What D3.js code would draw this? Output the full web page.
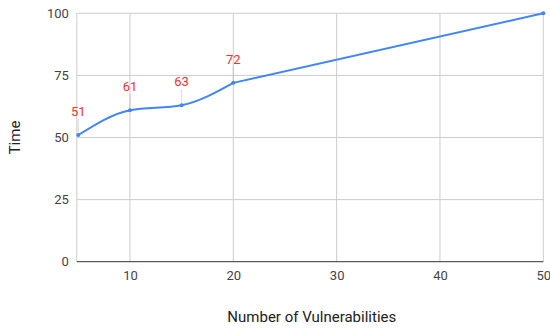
<!DOCTYPE html>
<html>
<head>
<meta charset="utf-8">
<script src="https://cdn.jsdelivr.net/npm/d3@7"></script>
<style>
  html, body { margin: 0; padding: 0; background: #fff; }
  svg { display: block; font-family: Roboto, Arial, sans-serif; }
</style>
</head>
<body>
<svg id="chart" width="550" height="329"></svg>
<script>
// Vulnerability count vs. time
const vulnerabilities = [5, 10, 15, 20, 50];
const times = [51, 61, 63, 72, 100];
const annotated = [true, true, true, true, false];
const xTicks = [10, 20, 30, 40, 50];
const yTicks = [0, 25, 50, 75, 100];

const svg = d3.select("#chart");

const x = d3.scaleLinear().domain([5, 50]).range([78.3, 543.3]);
const y = d3.scaleLinear().domain([0, 100]).range([261.7, 13.3]);
const plotLeft = x(5) - 1.5;

// Vertical gridlines
svg.append("g")
  .selectAll("line")
  .data(xTicks)
  .join("line")
  .attr("x1", d => x(d)).attr("x2", d => x(d))
  .attr("y1", y(100)).attr("y2", y(0))
  .attr("stroke", "#cccccc").attr("stroke-width", 1);

// Left edge line of the plot area
svg.append("line")
  .attr("x1", plotLeft).attr("x2", plotLeft)
  .attr("y1", y(100)).attr("y2", y(0))
  .attr("stroke", "#cccccc").attr("stroke-width", 1);

// Horizontal gridlines
svg.append("g")
  .selectAll("line")
  .data(yTicks.filter(d => d !== 0))
  .join("line")
  .attr("x1", plotLeft).attr("x2", x(50))
  .attr("y1", d => y(d)).attr("y2", d => y(d))
  .attr("stroke", "#cccccc").attr("stroke-width", 1);

// Baseline
svg.append("line")
  .attr("x1", plotLeft).attr("x2", x(50))
  .attr("y1", y(0)).attr("y2", y(0))
  .attr("stroke", "#333333").attr("stroke-width", 1);

// Y axis labels
const yAxis = d3.axisLeft(y).tickValues(yTicks).tickSize(0).tickPadding(8);
svg.append("g")
  .attr("transform", `translate(${plotLeft},0)`)
  .call(yAxis)
  .call(g => g.select(".domain").remove())
  .call(g => g.selectAll("text")
    .attr("font-size", 13).attr("fill", "#444444")
    .attr("font-family", "Roboto, Arial, sans-serif"));

// X axis labels
const xAxis = d3.axisBottom(x).tickValues(xTicks).tickSize(0).tickPadding(9);
svg.append("g")
  .attr("transform", `translate(0,${y(0)})`)
  .call(xAxis)
  .call(g => g.select(".domain").remove())
  .call(g => g.selectAll("text")
    .attr("font-size", 13).attr("fill", "#444444")
    .attr("font-family", "Roboto, Arial, sans-serif"));

// Axis titles
svg.append("text")
  .attr("x", (x(5) + x(50)) / 2 + 1)
  .attr("y", 322)
  .attr("text-anchor", "middle")
  .attr("font-size", 15).attr("fill", "#222222")
  .text("Number of Vulnerabilities");

svg.append("text")
  .attr("transform", `translate(20,${(y(0) + y(100)) / 2}) rotate(-90)`)
  .attr("text-anchor", "middle")
  .attr("font-size", 15).attr("fill", "#222222")
  .text("Time");

const points = vulnerabilities.map((v, i) => ({ v, t: times[i], a: annotated[i] }));

// Annotation stems
svg.append("g")
  .selectAll("line")
  .data(points.filter(d => d.a))
  .join("line")
  .attr("x1", d => x(d.v)).attr("x2", d => x(d.v))
  .attr("y1", d => y(d.t)).attr("y2", d => y(d.t) - 16)
  .attr("stroke", "#999999").attr("stroke-opacity", 0.35).attr("stroke-width", 1);

// Series line: smoothed through the dense points, straight across the long gap
const smooth = d3.line()
  .x(d => x(d.v))
  .y(d => y(d.t))
  .curve(d3.curveMonotoneX);
const straight = d3.line()
  .x(d => x(d.v))
  .y(d => y(d.t));

const n = points.length;
svg.append("path")
  .datum(points.slice(0, n - 1))
  .attr("d", smooth)
  .attr("fill", "none")
  .attr("stroke", "#4285f4")
  .attr("stroke-width", 2)
  .attr("stroke-linecap", "round");

svg.append("path")
  .datum(points.slice(n - 2))
  .attr("d", straight)
  .attr("fill", "none")
  .attr("stroke", "#4285f4")
  .attr("stroke-width", 2)
  .attr("stroke-linecap", "round");

// Point markers
svg.append("g")
  .selectAll("circle")
  .data(points)
  .join("circle")
  .attr("cx", d => x(d.v)).attr("cy", d => y(d.t))
  .attr("r", 2).attr("fill", "#4285f4");

// Value labels
svg.append("g")
  .selectAll("text")
  .data(points.filter(d => d.a))
  .join("text")
  .attr("x", d => x(d.v))
  .attr("y", d => y(d.t) - 19)
  .attr("text-anchor", "middle")
  .attr("font-size", 13)
  .attr("fill", "#ff2d2d")
  .text(d => d.t);
</script>
</body>
</html>
